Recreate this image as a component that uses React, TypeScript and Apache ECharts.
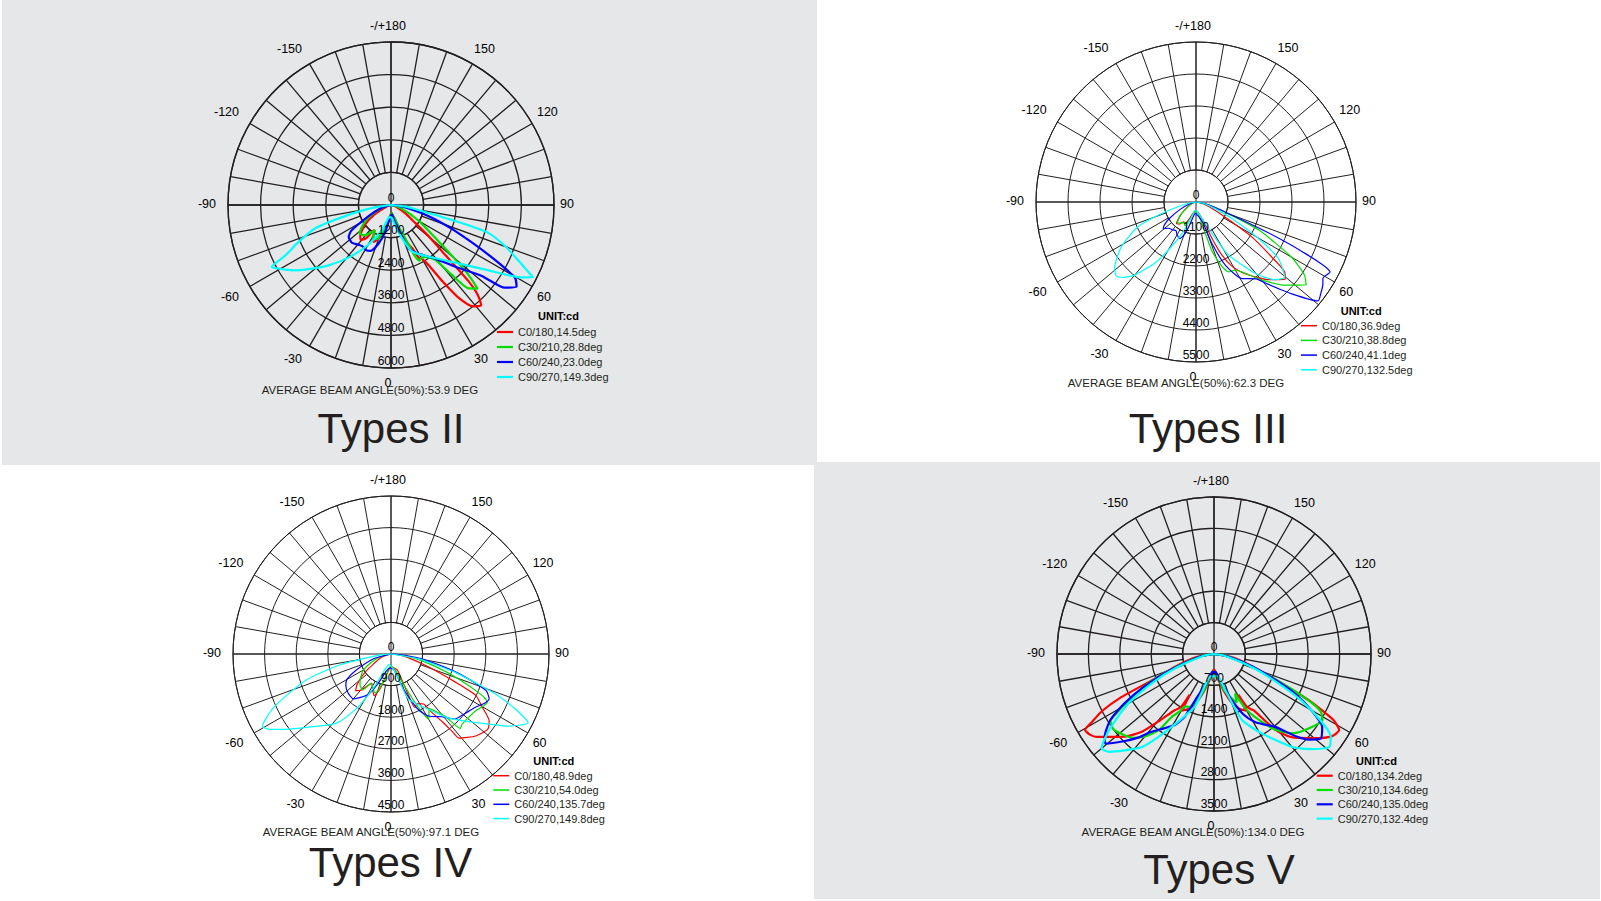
import React, { useEffect, useRef } from 'react';
import * as echarts from 'echarts';

const FONT = '"Liberation Sans", Arial, Helvetica, sans-serif';
const INK = '#231f20';

const planeNames = ['C0/180', 'C30/210', 'C60/240', 'C90/270'];
const curveColors = ['#ff0000', '#00dd00', '#0000ff', '#00ffff'];
const titles = ['Types II', 'Types III', 'Types IV', 'Types V'];
const avgBeam = ['53.9', '62.3', '97.1', '134.0'];

// radial ticks (cd)
const t2Ticks = [0, 1200, 2400, 3600, 4800, 6000];
const t3Ticks = [0, 1100, 2200, 3300, 4400, 5500];
const t4Ticks = [0, 900, 1800, 2700, 3600, 4500];
const t5Ticks = [0, 700, 1400, 2100, 2800, 3500];

// beam angles per plane
const t2Beams = ['14.5', '28.8', '23.0', '149.3'];
const t3Beams = ['36.9', '38.8', '41.1', '132.5'];
const t4Beams = ['48.9', '54.0', '135.7', '149.8'];
const t5Beams = ['134.2', '134.6', '135.0', '132.4'];

// [gamma angle (deg), intensity (cd)]
const t2C0 = [[-90,0],[-70,150],[-60,700],[-53,1200],[-45,1600],[-41,1700],[-37,1550],[-35,1200],[-33,1100],[-29,1350],[-25,1500],[-20,1300],[-15,1000],[-10,700],[-5,400],[0,330],[5,300],[10,400],[15,500],[18,800],[20,1150],[23,1500],[26,1750],[28,2240],[30,2300],[32,2600],[34,3400],[36,4200],[39,4800],[42,4960],[44,4600],[45.5,4000],[47.8,2520],[50,1900],[53.6,1100],[60,600],[70,200],[80,50],[90,0]];
const t2C30 = [[-90,0],[-75,300],[-62,900],[-55,1250],[-48,1550],[-42,1500],[-37,1300],[-33,1100],[-28,1400],[-22,1350],[-16,1000],[-10,700],[-5,400],[0,350],[5,300],[10,400],[15,500],[20,900],[23,1300],[25,2050],[27,2300],[30,2250],[34,2300],[37,2450],[39,2600],[41,3400],[43,4200],[46,4430],[48,3820],[50,3000],[52,2360],[57,1500],[62,1000],[70,450],[80,150],[90,0]];
const t2C60 = [[-90,0],[-75,300],[-65,800],[-60,1300],[-57,1750],[-53,1950],[-46,2000],[-40,1900],[-35,1850],[-28,1900],[-24,1850],[-18,1500],[-12,1000],[-6,500],[0,400],[5,350],[12,600],[18,1000],[22,1700],[28,2000],[35,2300],[40,2600],[46,3260],[52,4240],[54,5180],[57,5510],[59.6,5290],[63,4020],[68,2540],[72,1700],[75,1200],[80,600],[85,250],[90,0]];
const t2C90 = [[-90,0],[-82,500],[-78,1350],[-73,2900],[-68,3700],[-64.5,4300],[-62.5,4950],[-60,4700],[-56,4300],[-53,3950],[-46,3200],[-38,2400],[-30,1700],[-20,1000],[-12,500],[-5,450],[0,450],[5,500],[10,700],[15,1000],[18,1265],[24,1860],[30,2100],[38,2450],[48,3170],[56,4290],[61,5500],[63,5870],[65.6,5280],[70,4500],[74,3720],[76,2430],[79,1150],[84,500],[90,0]];

const t3C0 = [[-90,0],[-70,150],[-55,500],[-47,800],[-42,1000],[-37,950],[-32,800],[-28,850],[-23,700],[-15,400],[-5,300],[0,300],[10,350],[18,500],[22,800],[24,1450],[26,2035],[29,2500],[33,2875],[36,3100],[39.5,3370],[43,3650],[49,4060],[51.4,3915],[54,3216],[58,2260],[62.6,1120],[70,500],[80,150],[90,0]];
const t3C30 = [[-90,0],[-70,150],[-60,300],[-50,700],[-42,950],[-36,900],[-30,800],[-25,900],[-18,600],[-10,400],[0,300],[10,400],[16,900],[18,1750],[22,2400],[25,2650],[30,2700],[36,3100],[41,3590],[47,4190],[53,4740],[56,4500],[60,3795],[66,2355],[70,1180],[78,400],[90,0]];
const t3C60 = [[-90,0],[-75,200],[-65,600],[-58,1100],[-54,1350],[-51,1450],[-46,1300],[-40,1250],[-35,1200],[-30,1300],[-24,1380],[-19,1150],[-15,770],[-10,500],[-5,400],[0,400],[5,450],[10,500],[15,600],[19,800],[21,1530],[25,2400],[31,3070],[38,3350],[41,3730],[46.5,4610],[51,5400],[53.7,5320],[57,5200],[59,5090],[62.4,5200],[65,4000],[67,2700],[70,1300],[75,600],[80,300],[90,0]];
const t3C90 = [[-90,0],[-80,300],[-72,1120],[-67,2160],[-59,3000],[-51,3600],[-47,3740],[-44,3600],[-40,3280],[-34,2525],[-30,1915],[-24,1200],[-16,535],[-8,300],[0,300],[10,350],[20,600],[26,1090],[31,2065],[35.5,2600],[40,3230],[45,3770],[49.5,4000],[53,3700],[56,3360],[60,2410],[65,1400],[72,600],[80,250],[90,0]];

const t4C0 = [[-90,0],[-70,300],[-55,900],[-48,1300],[-44,1450],[-40,1350],[-36,1100],[-33,1000],[-27,1150],[-22,1280],[-17,1000],[-12,600],[-5,400],[0,350],[10,400],[18,450],[22,500],[23,1235],[24,1665],[28,1600],[33,1700],[35,2030],[37,2400],[38.3,2800],[39,3085],[46,3360],[52,3490],[55.7,3385],[59.7,3015],[64,2685],[66.4,2000],[71,1120],[78,500],[85,200],[90,0]];
const t4C30 = [[-90,0],[-80,200],[-70,500],[-60,900],[-52,1100],[-45,1250],[-38,1300],[-34,1000],[-28,1100],[-22,1200],[-15,800],[-8,400],[0,350],[10,400],[16,500],[21,800],[27,1700],[30,2140],[35,1900],[41,2350],[43,2900],[45,2850],[50,2850],[56,2900],[60,3000],[63.4,3070],[65.5,2860],[70,2000],[75,1200],[82,500],[90,0]];
const t4C60 = [[-90,0],[-75,500],[-65,1100],[-60,1450],[-55,1570],[-48,1650],[-40,1665],[-35,1510],[-29,1300],[-24,930],[-15,500],[-5,400],[0,400],[10,450],[20,1100],[26,1750],[31,2060],[39,2300],[44.5,2600],[51,2700],[58,2850],[62,3000],[65.4,3075],[69,2900],[74,2000],[80,1000],[85,400],[90,0]];
const t4C90 = [[-90,0],[-85,300],[-78,1480],[-73,2525],[-66,3600],[-62,4090],[-60.5,4200],[-58,4050],[-56,3840],[-49,3185],[-38,2490],[-32,1800],[-27,1060],[-22,500],[-10,300],[0,350],[10,450],[16,680],[21,1370],[34,1900],[42,2460],[51,3100],[58.7,3950],[63.4,4370],[66,3900],[69,3200],[74,1900],[80,800],[90,0]];

const t5C0 = [[-90,0],[-80,400],[-72,900],[-67,1500],[-65,2300],[-63,2800],[-61,3100],[-59.5,3335],[-57,3300],[-54.7,3200],[-47.5,2730],[-43,2380],[-39,1890],[-35,1530],[-32,1400],[-31,1060],[-29.5,1450],[-25,1350],[-20,1150],[-15,850],[-10,600],[-5,400],[0,350],[5,400],[10,600],[15,850],[20,1150],[25,1350],[29.5,1450],[31,1060],[32,1400],[35,1530],[39,2175],[43,2535],[50,2920],[55,3200],[58.7,3265],[61,3050],[64,2350],[67,1500],[72,900],[80,400],[90,0]];
const t5C30 = [[-90,0],[-80,300],[-72,800],[-66,1600],[-62,2100],[-59,2500],[-57,2750],[-53,2800],[-48,2700],[-44,2600],[-40,2400],[-36,2100],[-34,1700],[-31,1500],[-29,1340],[-25,1300],[-20,1100],[-15,800],[-10,550],[-5,400],[0,400],[5,400],[10,550],[15,800],[20,1000],[25,1200],[28,1000],[30,1400],[33,1670],[39,2175],[45,2500],[52,2690],[58.7,2830],[61.7,2700],[64,2300],[67,1600],[72,800],[80,300],[90,0]];
const t5C60 = [[-90,0],[-80,300],[-70,1000],[-65,1700],[-61,2300],[-57.5,2740],[-53,3050],[-50.5,3140],[-46,2800],[-42,2500],[-39,2240],[-34,2000],[-29,1810],[-25,1540],[-21,1000],[-15,700],[-10,500],[-5,400],[0,400],[5,400],[10,500],[15,700],[21,1090],[26,1500],[31,1770],[36,1950],[40,2120],[45,2600],[48,2850],[51.6,3035],[56,2910],[60,2500],[64,2000],[67,1500],[72,900],[80,300],[90,0]];
const t5C90 = [[-90,0],[-80,250],[-70,900],[-65,1500],[-60,2200],[-56,2650],[-53,3000],[-50,3270],[-47,3200],[-43,2940],[-38,2640],[-34,2240],[-27,1640],[-20,1250],[-15,670],[-8,500],[0,500],[8,500],[17,830],[23,1600],[31,2065],[40,2700],[45,3000],[51,3300],[54.7,3190],[58,2800],[62,2200],[66,1500],[71,900],[80,250],[90,0]];

const panels = [
  { curves: [t2C0, t2C30, t2C60, t2C90], beams: t2Beams, ticks: t2Ticks, cx: 391, cy: 205, R: 163, lw: 2.2, gw: 1.3, legX: 497, legY: 332, legGap: 15, unitX: 538, unitY: 316, avgX: 370, avgY: 390, titleX: 391, titleY: 428, iconH: 2.2 },
  { curves: [t3C0, t3C30, t3C60, t3C90], beams: t3Beams, ticks: t3Ticks, cx: 1196, cy: 202, R: 160, lw: 1.2, gw: 1, legX: 1301, legY: 325.7, legGap: 14.7, unitX: 1340.7, unitY: 310.7, avgX: 1176, avgY: 383, titleX: 1208, titleY: 428, iconH: 1.5 },
  { curves: [t4C0, t4C30, t4C60, t4C90], beams: t4Beams, ticks: t4Ticks, cx: 391, cy: 654, R: 158, lw: 1.2, gw: 1, legX: 493.3, legY: 775.7, legGap: 14.3, unitX: 533.3, unitY: 761, avgX: 371, avgY: 832, titleX: 390.5, titleY: 862, iconH: 1.5 },
  { curves: [t5C0, t5C30, t5C60, t5C90], beams: t5Beams, ticks: t5Ticks, cx: 1214, cy: 654, R: 157, lw: 2.2, gw: 1.3, legX: 1316.7, legY: 775.7, legGap: 14.3, unitX: 1356, unitY: 761, avgX: 1193, avgY: 832, titleX: 1219, titleY: 869, iconH: 2.2 },
];

function angleLabel(v: number) {
  if (v === -180) return '-/+180';
  if (v === 180) return '';
  return v % 30 === 0 ? String(v) : '';
}

function buildOption() {
  const polar: any[] = [];
  const angleAxis: any[] = [];
  const radiusAxis: any[] = [];
  const series: any[] = [];
  const legend: any[] = [];
  const elements: any[] = [];

  panels.forEach((p, k) => {
    const gi = 3 * k;
    const di = 3 * k + 1;
    const li = 3 * k + 2;
    const max = p.ticks[p.ticks.length - 1];
    const step = p.ticks[1];
    const gridLine = { color: INK, width: p.gw };
    const hidden = { axisLine: { show: false }, axisTick: { show: false }, axisLabel: { show: false }, splitLine: { show: false } };

    polar.push({ center: [p.cx, p.cy], radius: [(p.R * step) / max, p.R] });
    polar.push({ center: [p.cx, p.cy], radius: [0, p.R] });
    // label-only polar, nudged to match the reference's label placement
    polar.push({ center: [p.cx - 3, p.cy - 1], radius: [0, p.R] });

    angleAxis.push({
      polarIndex: gi, type: 'value', min: -180, max: 180, interval: 10, startAngle: 90, clockwise: false,
      axisLine: { show: true, lineStyle: gridLine }, axisTick: { show: false },
      splitLine: { show: true, lineStyle: gridLine }, axisLabel: { show: false },
    });
    angleAxis.push({
      polarIndex: di, type: 'value', min: -180, max: 180, interval: 90, startAngle: 90, clockwise: false,
      axisLine: { show: false }, axisTick: { show: false }, axisLabel: { show: false },
      splitLine: { show: true, lineStyle: gridLine },
    });
    angleAxis.push({
      polarIndex: li, type: 'value', min: -180, max: 180, interval: 10, startAngle: 90, clockwise: false,
      axisLine: { show: false }, axisTick: { show: false }, splitLine: { show: false },
      axisLabel: { show: true, margin: 9, fontSize: 12.5, color: '#000', fontFamily: FONT, formatter: angleLabel },
    });
    radiusAxis.push({
      polarIndex: gi, type: 'value', min: step, max, interval: step,
      axisLine: { show: false }, axisTick: { show: false }, axisLabel: { show: false },
      splitLine: { show: true, lineStyle: gridLine },
    });
    radiusAxis.push({ polarIndex: di, type: 'value', min: 0, max, ...hidden });
    radiusAxis.push({ polarIndex: li, type: 'value', min: 0, max, ...hidden });

    const names: string[] = [];
    p.curves.forEach((c, i) => {
      const name = `${planeNames[i]},${p.beams[i]}deg`;
      names.push(name);
      series.push({
        type: 'line', name, coordinateSystem: 'polar', polarIndex: di,
        data: c.map(([a, v]) => [v, a]),
        symbol: 'none', showSymbol: false, smooth: 0.2, silent: true, z: 3,
        lineStyle: { color: curveColors[i], width: p.lw },
        itemStyle: { color: curveColors[i] },
      });
    });

    series.push({
      type: 'scatter', name: `ticks${k}`, coordinateSystem: 'polar', polarIndex: di,
      data: p.ticks.map((v) => [v, 0]), symbolSize: 1, silent: true, z: 5,
      itemStyle: { color: 'rgba(0,0,0,0)', opacity: 1 },
      emphasis: { disabled: true },
      label: { show: true, position: 'top', distance: 1, color: '#000', opacity: 1, fontSize: 12, fontFamily: FONT,
        textBorderWidth: 0, formatter: (q: any) => String(q.value[0]) },
    });

    legend.push({
      orient: 'vertical', left: p.legX, top: p.legY - 5.5, padding: 0,
      itemWidth: 16, itemHeight: p.iconH, itemGap: p.legGap - 11, icon: 'rect',
      selectedMode: false, data: names,
      textStyle: { fontSize: 11, lineHeight: 11, color: INK, fontFamily: FONT, padding: [0, 0, 0, 0] },
    });

    elements.push({ type: 'text', x: p.unitX, y: p.unitY, silent: true,
      style: { text: 'UNIT:cd', fill: '#000', fontSize: 11, fontWeight: 'bold', fontFamily: FONT, align: 'left', verticalAlign: 'middle' } });
    elements.push({ type: 'text', x: p.avgX, y: p.avgY, silent: true,
      style: { text: `AVERAGE BEAM ANGLE(50%):${avgBeam[k]} DEG`, fill: INK, fontSize: 11.5, fontFamily: FONT, align: 'center', verticalAlign: 'middle' } });
    elements.push({ type: 'text', x: p.titleX, y: p.titleY, silent: true,
      style: { text: titles[k], fill: INK, fontSize: 42, fontFamily: FONT, align: 'center', verticalAlign: 'middle' } });
  });

  return {
    animation: false,
    backgroundColor: 'transparent',
    textStyle: { fontFamily: FONT },
    polar, angleAxis, radiusAxis, series, legend,
    graphic: { elements },
  };
}

export default function App() {
  const ref = useRef<HTMLDivElement>(null);
  useEffect(() => {
    const el = ref.current;
    if (!el) return;
    const chart = echarts.init(el, undefined, { renderer: 'svg', width: 1601, height: 901 });
    chart.setOption(buildOption() as any);
    return () => chart.dispose();
  }, []);
  return (
    <div style={{ position: 'fixed', left: 0, top: 0, width: 1601, height: 901, background: '#ffffff', overflow: 'hidden' }}>
      <div style={{ position: 'absolute', left: 2, top: 0, width: 815, height: 465, background: '#e6e7e8' }} />
      <div style={{ position: 'absolute', left: 814, top: 462, width: 786, height: 437, background: '#e6e7e8' }} />
      <div ref={ref} style={{ position: 'absolute', left: 0, top: 0, width: 1601, height: 901 }} />
    </div>
  );
}
